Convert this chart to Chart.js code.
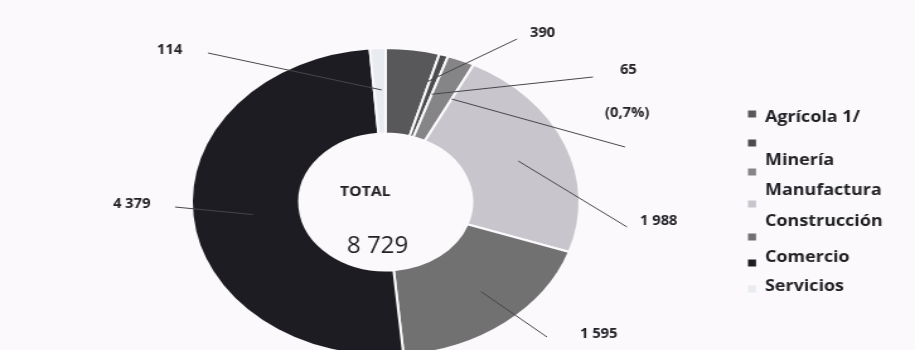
<!DOCTYPE html>
<html lang="es">
<head>
<meta charset="utf-8">
<script src="https://cdn.jsdelivr.net/npm/chart.js@4.4.0/dist/chart.umd.min.js"></script>
<style>
  html, body { margin: 0; padding: 0; background: #fbf9fb; }
  #marco { width: 915px; height: 350px; overflow: hidden; }
</style>
</head>
<body>
<div id="marco">
  <canvas id="grafico" width="726" height="370" style="width:915px;height:370px"></canvas>
</div>
<script>
// Empleo por sector (miles)
const sectores = ['Agrícola 1/', '', 'Minería', 'Manufactura', 'Construcción', 'Comercio', 'Servicios'];
const empleo = [390, 65, 198, 1988, 1595, 4379, 114];
const colores = ['#58585a', '#4c4c4e', '#858587', '#c8c6cc', '#717172', '#1d1c22', '#e8ecf0'];

// el lienzo se estira en horizontal (el anillo queda ovalado)
const S = 915 / 726;

const total = empleo.reduce((a, b) => a + b, 0);
const miles = n => String(n).replace(/\B(?=(\d{3})+(?!\d))/g, ' ');
const pct = n => '(' + (n / total * 100).toFixed(1).replace('.', ',') + '%)';

function texto(ctx, str, x, y, size, weight, sx) {
  ctx.save();
  ctx.translate(x / S, y);
  ctx.scale(sx / S, 1);
  ctx.font = weight + ' ' + size + 'px "Open Sans"';
  ctx.textAlign = 'left';
  ctx.textBaseline = 'middle';
  ctx.fillStyle = '#222226';
  ctx.fillText(str, 0, 0);
  ctx.restore();
}

// punto dentro de un sector: t = fracción del ángulo, f = fracción del grosor
function puntoSector(chart, i, t, f) {
  const arc = chart.getDatasetMeta(0).data[i];
  const p = arc.getProps(['x', 'y', 'startAngle', 'endAngle', 'innerRadius', 'outerRadius'], true);
  const a = p.startAngle + (p.endAngle - p.startAngle) * t;
  const r = p.innerRadius + (p.outerRadius - p.innerRadius) * f;
  return { x: p.x + Math.cos(a) * r, y: p.y + Math.sin(a) * r };
}

const rotulos = {
  id: 'rotulos',
  afterDraw(chart) {
    const ctx = chart.ctx;

    // líneas guía y cifras
    const guias = [
      { i: 0, t: 0.96, f: 0.66, lx: 517, ly: 39, txt: miles(empleo[0]), x: 530, y: 33 },
      { i: 1, t: 1.0, f: 0.53, lx: 593, ly: 77, txt: miles(empleo[1]), x: 620, y: 70 },
      { i: 2, t: 1.0, f: 0.55, lx: 625, ly: 147, txt: pct(empleo[1]), x: 605, y: 113 },
      { i: 3, t: 0.51, f: 0.52, lx: 627, ly: 227, txt: miles(empleo[3]), x: 640, y: 221 },
      { i: 4, t: 0.47, f: 0.57, lx: 547, ly: 337, txt: miles(empleo[4]), x: 580, y: 334 },
      { i: 5, t: 0.49, f: 0.44, lx: 175, ly: 207, txt: miles(empleo[5]), x: 113, y: 204 },
      { i: 6, t: 0.66, f: 0.51, lx: 208, ly: 53, txt: miles(empleo[6]), x: 157, y: 50 }
    ];
    ctx.save();
    ctx.strokeStyle = '#46464a';
    ctx.lineWidth = 1;
    guias.forEach(g => {
      const p = puntoSector(chart, g.i, g.t, g.f);
      ctx.beginPath();
      ctx.moveTo(p.x, p.y);
      ctx.lineTo(g.lx / S, g.ly);
      ctx.stroke();
    });
    ctx.restore();
    guias.forEach(g => texto(ctx, g.txt, g.x, g.y, 14, 700, 1.05));

    // centro
    texto(ctx, 'TOTAL', 340, 192, 15, 700, 1.05);
    texto(ctx, miles(total), 347, 246, 24, 500, 1.0);

    // leyenda
    const filasMarca = [114, 143, 172, 204, 237, 263, 289];
    colores.forEach((c, k) => {
      ctx.fillStyle = c;
      ctx.fillRect(748 / S, filasMarca[k] - 3.5, 8 / S, 7);
    });
    const filasTexto = [117, 160, 190, 221, 257, 286];
    sectores.filter(s => s).forEach((s, k) => texto(ctx, s, 765, filasTexto[k], 16, 700, 1.12));
  }
};

new Chart(document.getElementById('grafico'), {
  type: 'doughnut',
  data: {
    labels: sectores,
    datasets: [{
      data: empleo,
      backgroundColor: colores,
      borderColor: '#fbf9fb',
      borderWidth: 2
    }]
  },
  options: {
    responsive: false,
    animation: false,
    radius: 154,
    cutout: 68,
    layout: { padding: { left: 152, right: 266, top: 48, bottom: 14 } },
    plugins: {
      legend: { display: false },
      tooltip: { enabled: false }
    }
  },
  plugins: [rotulos]
});
</script>
</body>
</html>
